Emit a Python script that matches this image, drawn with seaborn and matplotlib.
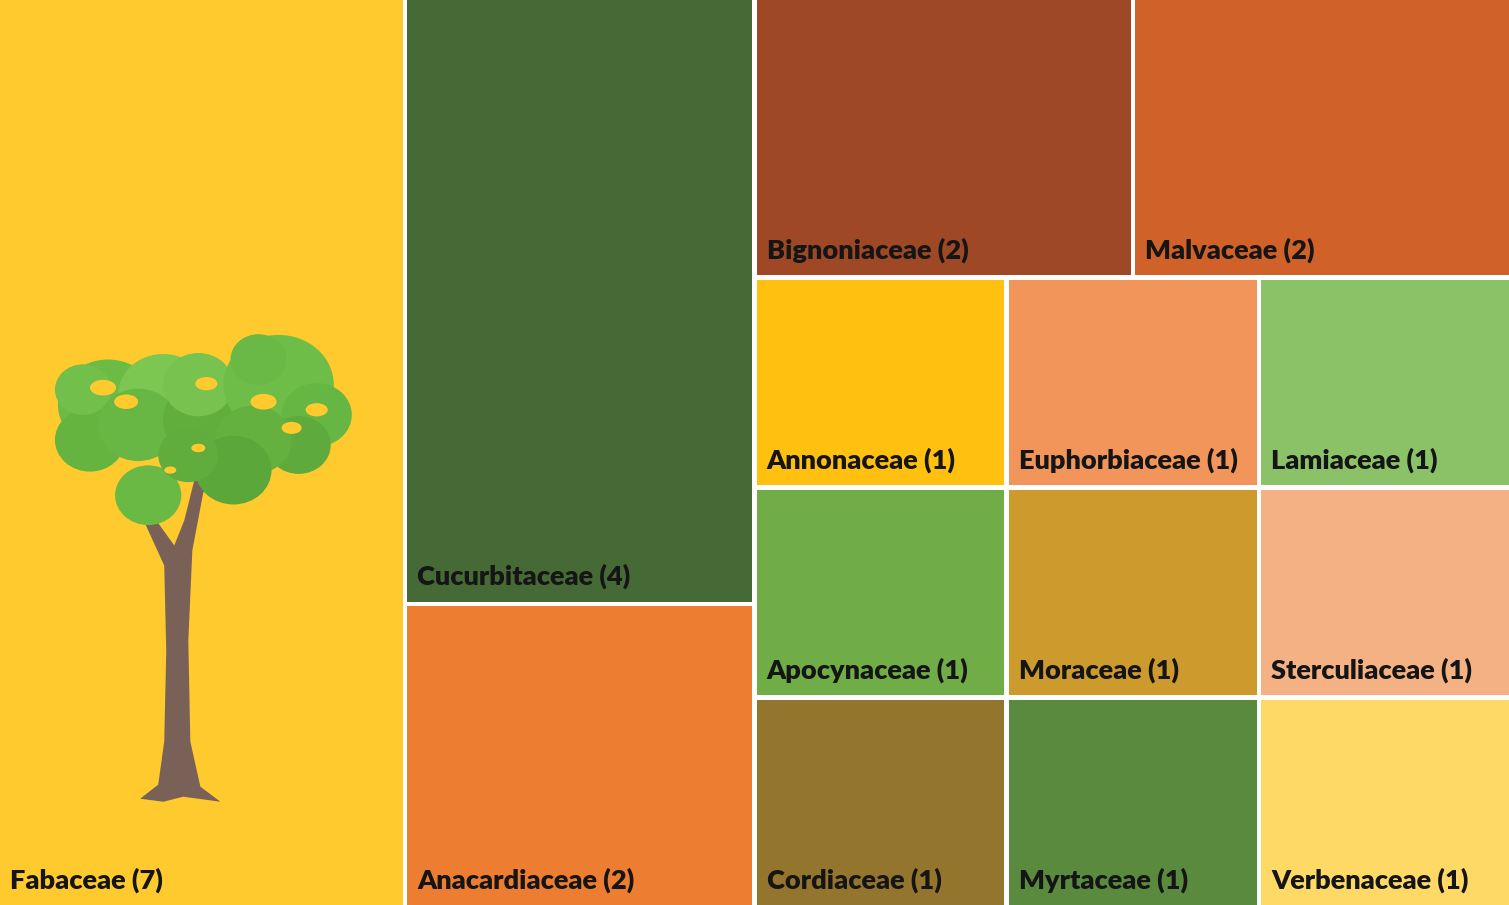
import matplotlib
matplotlib.use("Agg")
import matplotlib.pyplot as plt
import matplotlib.patches as mpatches
import seaborn as sns

# Plant families and number of species
families = ["Fabaceae", "Cucurbitaceae", "Anacardiaceae", "Bignoniaceae", "Malvaceae",
            "Annonaceae", "Apocynaceae", "Cordiaceae", "Euphorbiaceae", "Moraceae",
            "Myrtaceae", "Lamiaceae", "Sterculiaceae", "Verbenaceae"]
counts = [7, 4, 2, 2, 2, 1, 1, 1, 1, 1, 1, 1, 1, 1]
colors = ["#FFCA2E", "#466A35", "#ED7D31", "#9E4826", "#D06128",
          "#FFC010", "#70AD47", "#94752D", "#F1955A", "#CC9A2D",
          "#5A8A3E", "#8BC268", "#F4B183", "#FFD966"]

# nesting of the treemap (h = side by side, v = stacked)
layout = ("h", ["Fabaceae",
                ("v", ["Cucurbitaceae", "Anacardiaceae"]),
                ("v", [("h", ["Bignoniaceae", "Malvaceae"]),
                       ("h", [("v", ["Annonaceae", "Apocynaceae", "Cordiaceae"]),
                              ("v", ["Euphorbiaceae", "Moraceae", "Myrtaceae"]),
                              ("v", ["Lamiaceae", "Sterculiaceae", "Verbenaceae"])])])])

value = dict(zip(families, counts))
color = dict(zip(families, sns.color_palette(colors)))


def total(node):
    if isinstance(node, str):
        return value[node]
    return sum(total(c) for c in node[1])


def place(node, x, y, w, h, out):
    if isinstance(node, str):
        out[node] = (x, y, w, h)
        return
    orient, children = node
    s = total(node)
    for c in children:
        f = total(c) / s
        if orient == "h":
            place(c, x, y, w * f, h, out)
            x += w * f
        else:
            place(c, x, y, w, h * f, out)
            y += h * f


sns.set_theme(style="white")
plt.rcParams["font.family"] = ["Lato", "DejaVu Sans"]

W, H = 15.09, 9.05
gap = 0.045
fig = plt.figure(figsize=(W, H), dpi=100)
ax = fig.add_axes([0, 0, 1, 1])

rects = {}
place(layout, 0, 0, W, H, rects)

for name in families:
    x, y, w, h = rects[name]
    ax.add_patch(mpatches.Rectangle((x + gap / 2, y + gap / 2), w - gap, h - gap,
                                    facecolor=color[name], edgecolor="none"))
    ax.text(x + 0.12, y + h - 0.19, f"{name} ({value[name]})", fontsize=19.5,
            fontweight="heavy", color="#151515", ha="left", va="baseline")

# decorative tree inside the Fabaceae cell
fx, fy, fw, fh = rects["Fabaceae"]
s = 0.01  # one reference pixel
trunk = [(142, 797), (160, 783), (166, 740), (168, 650), (166, 565), (150, 530),
         (128, 480), (138, 478), (158, 520), (176, 545), (186, 520), (196, 480),
         (225, 470), (228, 478), (205, 492), (194, 550), (190, 640), (192, 740),
         (202, 785), (222, 800), (185, 795), (165, 800)]
ax.add_patch(mpatches.Polygon([(fx + px * s, fy + py * s) for px, py in trunk],
                              closed=True, facecolor="#7A6157", edgecolor="none"))
blobs = [(110, 405, 50, "#6CBB45"), (92, 440, 35, "#66B440"), (85, 390, 28, "#72BF4B"),
         (165, 395, 45, "#7CC652"), (140, 425, 40, "#68B643"), (215, 420, 50, "#62AE3D"),
         (200, 385, 35, "#78C34F"), (280, 385, 55, "#6EBD48"), (260, 360, 28, "#6AB946"),
         (318, 415, 35, "#66B643"), (300, 445, 32, "#5FAA3C"), (255, 440, 38, "#64B140"),
         (150, 495, 33, "#6BB945"), (235, 470, 38, "#5CA73A"), (190, 455, 30, "#60AC3D")]
for bx, by, r, c in blobs:
    ax.add_patch(mpatches.Ellipse((fx + bx * s, fy + by * s), 2 * r * s, 1.8 * r * s,
                                  facecolor=c, edgecolor="none"))
holes = [(105, 388, 13), (128, 402, 12), (208, 384, 11), (265, 402, 13), (318, 410, 11),
         (293, 428, 10), (200, 448, 7), (172, 470, 6)]
for hx, hy, r in holes:
    ax.add_patch(mpatches.Ellipse((fx + hx * s, fy + hy * s), 2 * r * s, 1.2 * r * s,
                                  facecolor=color["Fabaceae"], edgecolor="none"))

ax.set_xlim(gap / 2, W - gap / 2)
ax.set_ylim(H - gap / 2, gap / 2)
ax.axis("off")
fig.savefig("out.png", dpi=100, facecolor="white")
